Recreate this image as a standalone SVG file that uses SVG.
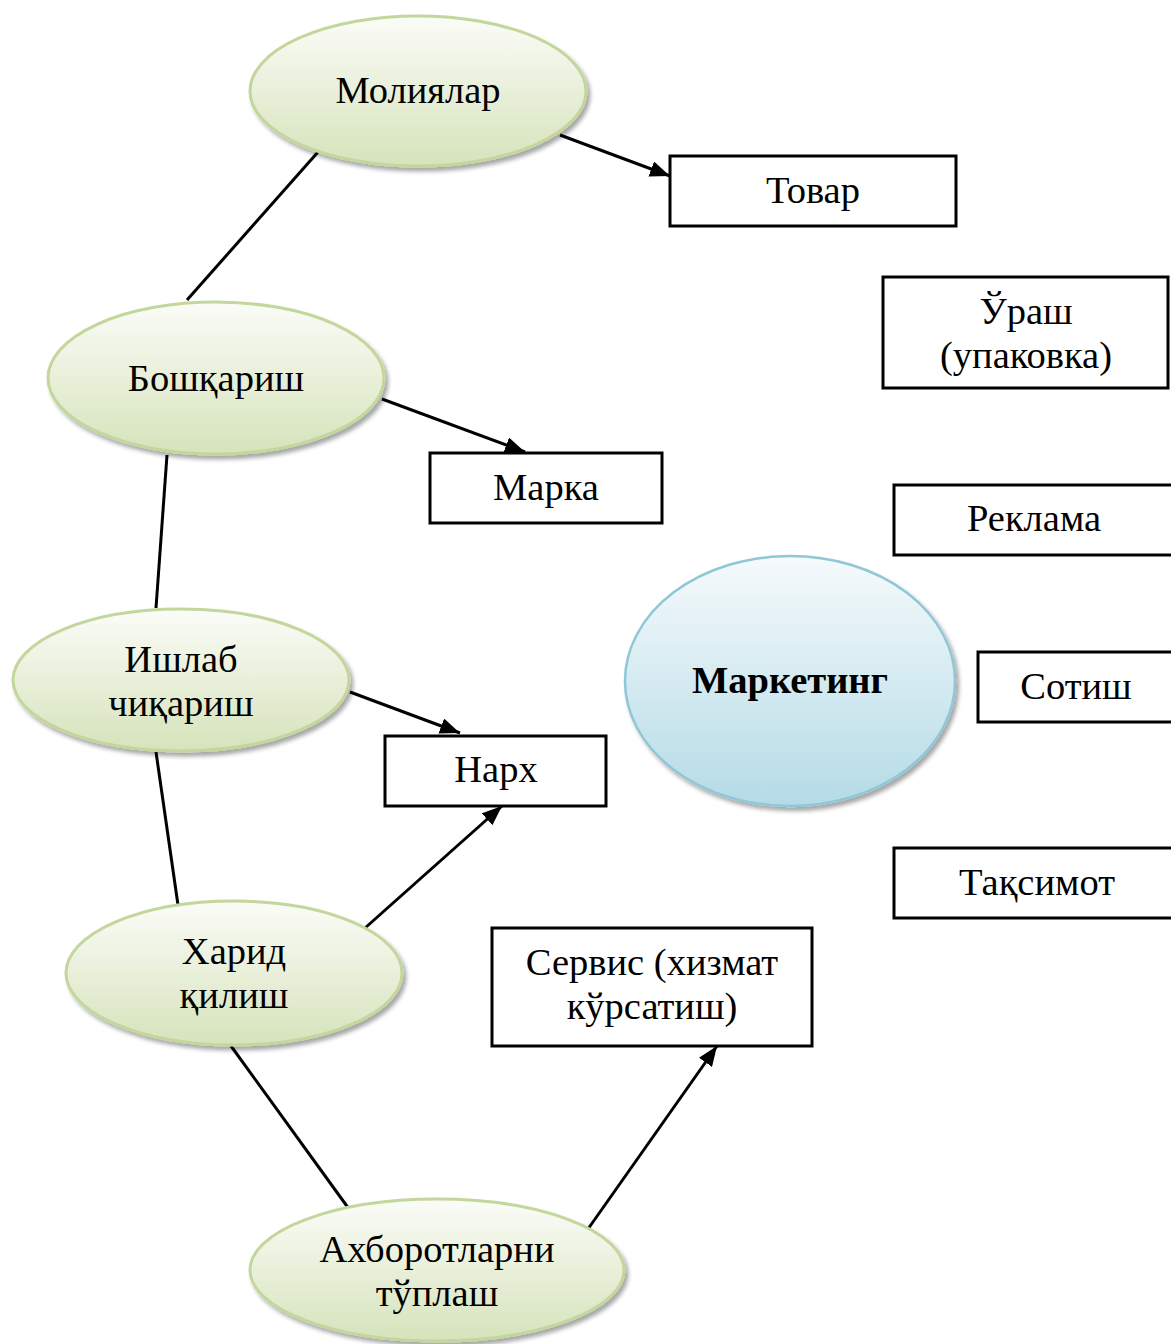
<svg xmlns="http://www.w3.org/2000/svg" width="1171" height="1344" viewBox="0 0 1171 1344">
  <defs>
    <linearGradient id="greenFill" x1="0" y1="0" x2="0" y2="1">
      <stop offset="0" stop-color="#fbfcf8"/>
      <stop offset="1" stop-color="#d6e3bb"/>
    </linearGradient>
    <linearGradient id="blueFill" x1="0" y1="0" x2="0" y2="1">
      <stop offset="0" stop-color="#f6fafc"/>
      <stop offset="1" stop-color="#b4dbe6"/>
    </linearGradient>
    <filter id="shadow" x="-10%" y="-10%" width="125%" height="130%">
      <feGaussianBlur in="SourceAlpha" stdDeviation="2"/>
      <feOffset dx="3" dy="4" result="blur"/>
      <feComponentTransfer><feFuncA type="linear" slope="0.35"/></feComponentTransfer>
      <feMerge><feMergeNode/><feMergeNode in="SourceGraphic"/></feMerge>
    </filter>
    <marker id="arrowHead" viewBox="0 0 20 16" refX="20" refY="8" markerWidth="20" markerHeight="16" markerUnits="userSpaceOnUse" orient="auto">
      <path d="M0,0 L20,8 L0,16 z" fill="#000"/>
    </marker>
  </defs>
  <style>
    .green { fill: url(#greenFill); stroke: #c3d69b; stroke-width: 3; filter: url(#shadow); }
    .blue { fill: url(#blueFill); stroke: #8fc7d6; stroke-width: 2.5; filter: url(#shadow); }
    .box { fill: #fff; stroke: #000; stroke-width: 3; }
    .lbl { font-family: "Liberation Serif", "Times New Roman", serif; font-size: 38.5px; fill: #000; text-anchor: middle; }
    .bold { font-weight: bold; }
    .edge { stroke: #000; stroke-width: 3; fill: none; }
    .arr { marker-end: url(#arrowHead); }
  </style>

  <rect width="1171" height="1344" fill="#fff"/>

  <!-- connectors -->
  <g id="connectors">
    <line class="edge arr" x1="560" y1="135" x2="670" y2="176"/>
    <line class="edge" x1="318" y1="152" x2="187" y2="300"/>
    <line class="edge arr" x1="382" y1="399" x2="525" y2="452"/>
    <line class="edge" x1="167" y1="455" x2="156" y2="608"/>
    <line class="edge arr" x1="350" y1="692" x2="460" y2="733"/>
    <line class="edge" x1="156" y1="752" x2="178" y2="905"/>
    <line class="edge arr" x1="365" y1="928" x2="502" y2="806"/>
    <line class="edge" x1="231" y1="1046" x2="349" y2="1209"/>
    <line class="edge arr" x1="588" y1="1229" x2="717" y2="1046"/>
  </g>

  <!-- ellipse nodes -->
  <g id="node-moliyalar">
    <ellipse class="green" cx="418" cy="91" rx="168" ry="75"/>
    <text class="lbl" x="418" y="103">Молиялар</text>
  </g>
  <g id="node-boshqarish">
    <ellipse class="green" cx="216" cy="378" rx="168" ry="76"/>
    <text class="lbl" x="216" y="391">Бошқариш</text>
  </g>
  <g id="node-ishlab">
    <ellipse class="green" cx="181" cy="680" rx="168" ry="71"/>
    <text class="lbl" x="181" y="672">Ишлаб</text>
    <text class="lbl" x="181" y="716">чиқариш</text>
  </g>
  <g id="node-harid">
    <ellipse class="green" cx="234" cy="973" rx="168" ry="72"/>
    <text class="lbl" x="234" y="964">Харид</text>
    <text class="lbl" x="234" y="1008">қилиш</text>
  </g>
  <g id="node-ahborot">
    <ellipse class="green" cx="437" cy="1270" rx="187" ry="71"/>
    <text class="lbl" x="437" y="1262">Ахборотларни</text>
    <text class="lbl" x="437" y="1306">тўплаш</text>
  </g>
  <g id="node-marketing">
    <ellipse class="blue" cx="790" cy="681" rx="165" ry="125"/>
    <text class="lbl bold" x="790" y="693">Маркетинг</text>
  </g>

  <!-- box nodes -->
  <g id="node-tovar">
    <rect class="box" x="670" y="156" width="286" height="70"/>
    <text class="lbl" x="813" y="203">Товар</text>
  </g>
  <g id="node-urash">
    <rect class="box" x="883" y="277" width="285" height="111"/>
    <text class="lbl" x="1026" y="324">Ўраш</text>
    <text class="lbl" x="1026" y="368">(упаковка)</text>
  </g>
  <g id="node-marka">
    <rect class="box" x="430" y="453" width="232" height="70"/>
    <text class="lbl" x="546" y="500">Марка</text>
  </g>
  <g id="node-reklama">
    <rect class="box" x="894" y="485" width="290" height="70"/>
    <text class="lbl" x="1034" y="531">Реклама</text>
  </g>
  <g id="node-sotish">
    <rect class="box" x="978" y="652" width="210" height="70"/>
    <text class="lbl" x="1076" y="699">Сотиш</text>
  </g>
  <g id="node-narh">
    <rect class="box" x="385" y="736" width="221" height="70"/>
    <text class="lbl" x="496" y="782">Нарх</text>
  </g>
  <g id="node-taqsimot">
    <rect class="box" x="894" y="848" width="290" height="70"/>
    <text class="lbl" x="1037" y="895">Тақсимот</text>
  </g>
  <g id="node-servis">
    <rect class="box" x="492" y="928" width="320" height="118"/>
    <text class="lbl" x="652" y="975">Сервис (хизмат</text>
    <text class="lbl" x="652" y="1019">кўрсатиш)</text>
  </g>
</svg>
